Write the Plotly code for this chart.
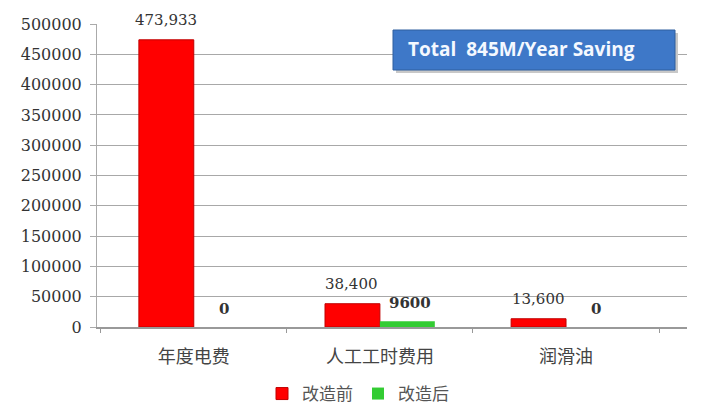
import plotly.graph_objects as go

categories = ["年度电费", "人工工时费用", "润滑油"]
before_vals = [473933, 38400, 13600]
after_vals = [0, 9600, 0]
series_names = ["改造前", "改造后"]
y_ticks = list(range(0, 500001, 50000))
box_text = "Total  845M/Year Saving"

# page body has an 8px margin; work in screen coordinates and convert
OFF = 8
W, H = 702 - OFF, 418 - OFF
ml = 97 - OFF
mt = 24 - OFF
mb = H - (327 - OFF)
mr = W - (687 - OFF)
pw, ph = W - ml - mr, H - mt - mb


def px(x):
    return (x - OFF - ml) / pw


def py(y):
    return (H - mb - (y - OFF)) / ph


fig = go.Figure()
fig.add_trace(go.Bar(x=categories, y=before_vals, name=series_names[0],
                     marker=dict(color="#FF0000", line=dict(color="#C00000", width=1))))
fig.add_trace(go.Bar(x=categories, y=after_vals, name=series_names[1],
                     marker=dict(color="#33CC33", line=dict(width=0))))

anns = []
for c, v in zip(categories, before_vals):
    anns.append(dict(x=c, y=v, xref="x", yref="y", text=f"{v:,}", showarrow=False,
                     xshift=-28, yshift=20,
                     font=dict(family="DejaVu Serif", size=15, color="#333333")))
for c, v in zip(categories, after_vals):
    anns.append(dict(x=c, y=v, xref="x", yref="y", text=f"<b>{v}</b>", showarrow=False,
                     xshift=30, yshift=18,
                     font=dict(family="DejaVu Serif", size=15, color="#333333")))
anns.append(dict(x=px(406), y=py(49), xref="paper", yref="paper", xanchor="left", yanchor="middle",
                 text=f"<b>{box_text}</b>", showarrow=False,
                 font=dict(family="Open Sans", size=19, color="#F4F8FF")))

fig.add_shape(type="rect", xref="paper", yref="paper", x0=px(396), x1=px(678), y0=py(33), y1=py(73),
              fillcolor="#C8C8C8", line=dict(width=0), layer="above")
fig.add_shape(type="rect", xref="paper", yref="paper", x0=px(393), x1=px(675), y0=py(30), y1=py(70),
              fillcolor="#3E78C8", line=dict(color="#2E5E9E", width=1), layer="above")

fig.update_layout(
    annotations=anns,
    width=W, height=H,
    margin=dict(l=ml, r=mr, t=mt, b=mb, autoexpand=False),
    paper_bgcolor="white", plot_bgcolor="white",
    barmode="group", bargap=0.41, bargroupgap=0,
    xaxis=dict(range=[-0.52, 2.65], showgrid=False, showline=True, linecolor="#999999", linewidth=2,
               ticks="outside", tickson="boundaries", ticklen=4, tickcolor="#999999",
               ticklabelstandoff=12, automargin=False,
               tickfont=dict(family="Noto Sans CJK SC", size=18, color="#444444")),
    yaxis=dict(range=[0, 500000], tickvals=y_ticks, ticktext=[str(t) for t in y_ticks],
               showgrid=True, gridcolor="#A8A8A8", gridwidth=1, showline=True, linecolor="#AAAAAA",
               ticks="outside", ticklen=6, tickcolor="#AAAAAA", zeroline=False, automargin=False,
               ticklabelstandoff=5,
               tickfont=dict(family="DejaVu Serif", size=16, color="#333333")),
    legend=dict(orientation="h", x=px(262), xanchor="left", y=py(376), yanchor="top",
                font=dict(family="Noto Sans CJK SC", size=17, color="#555555"),
                itemwidth=30, traceorder="normal"),
    showlegend=True,
)
fig.write_html("out.html")
